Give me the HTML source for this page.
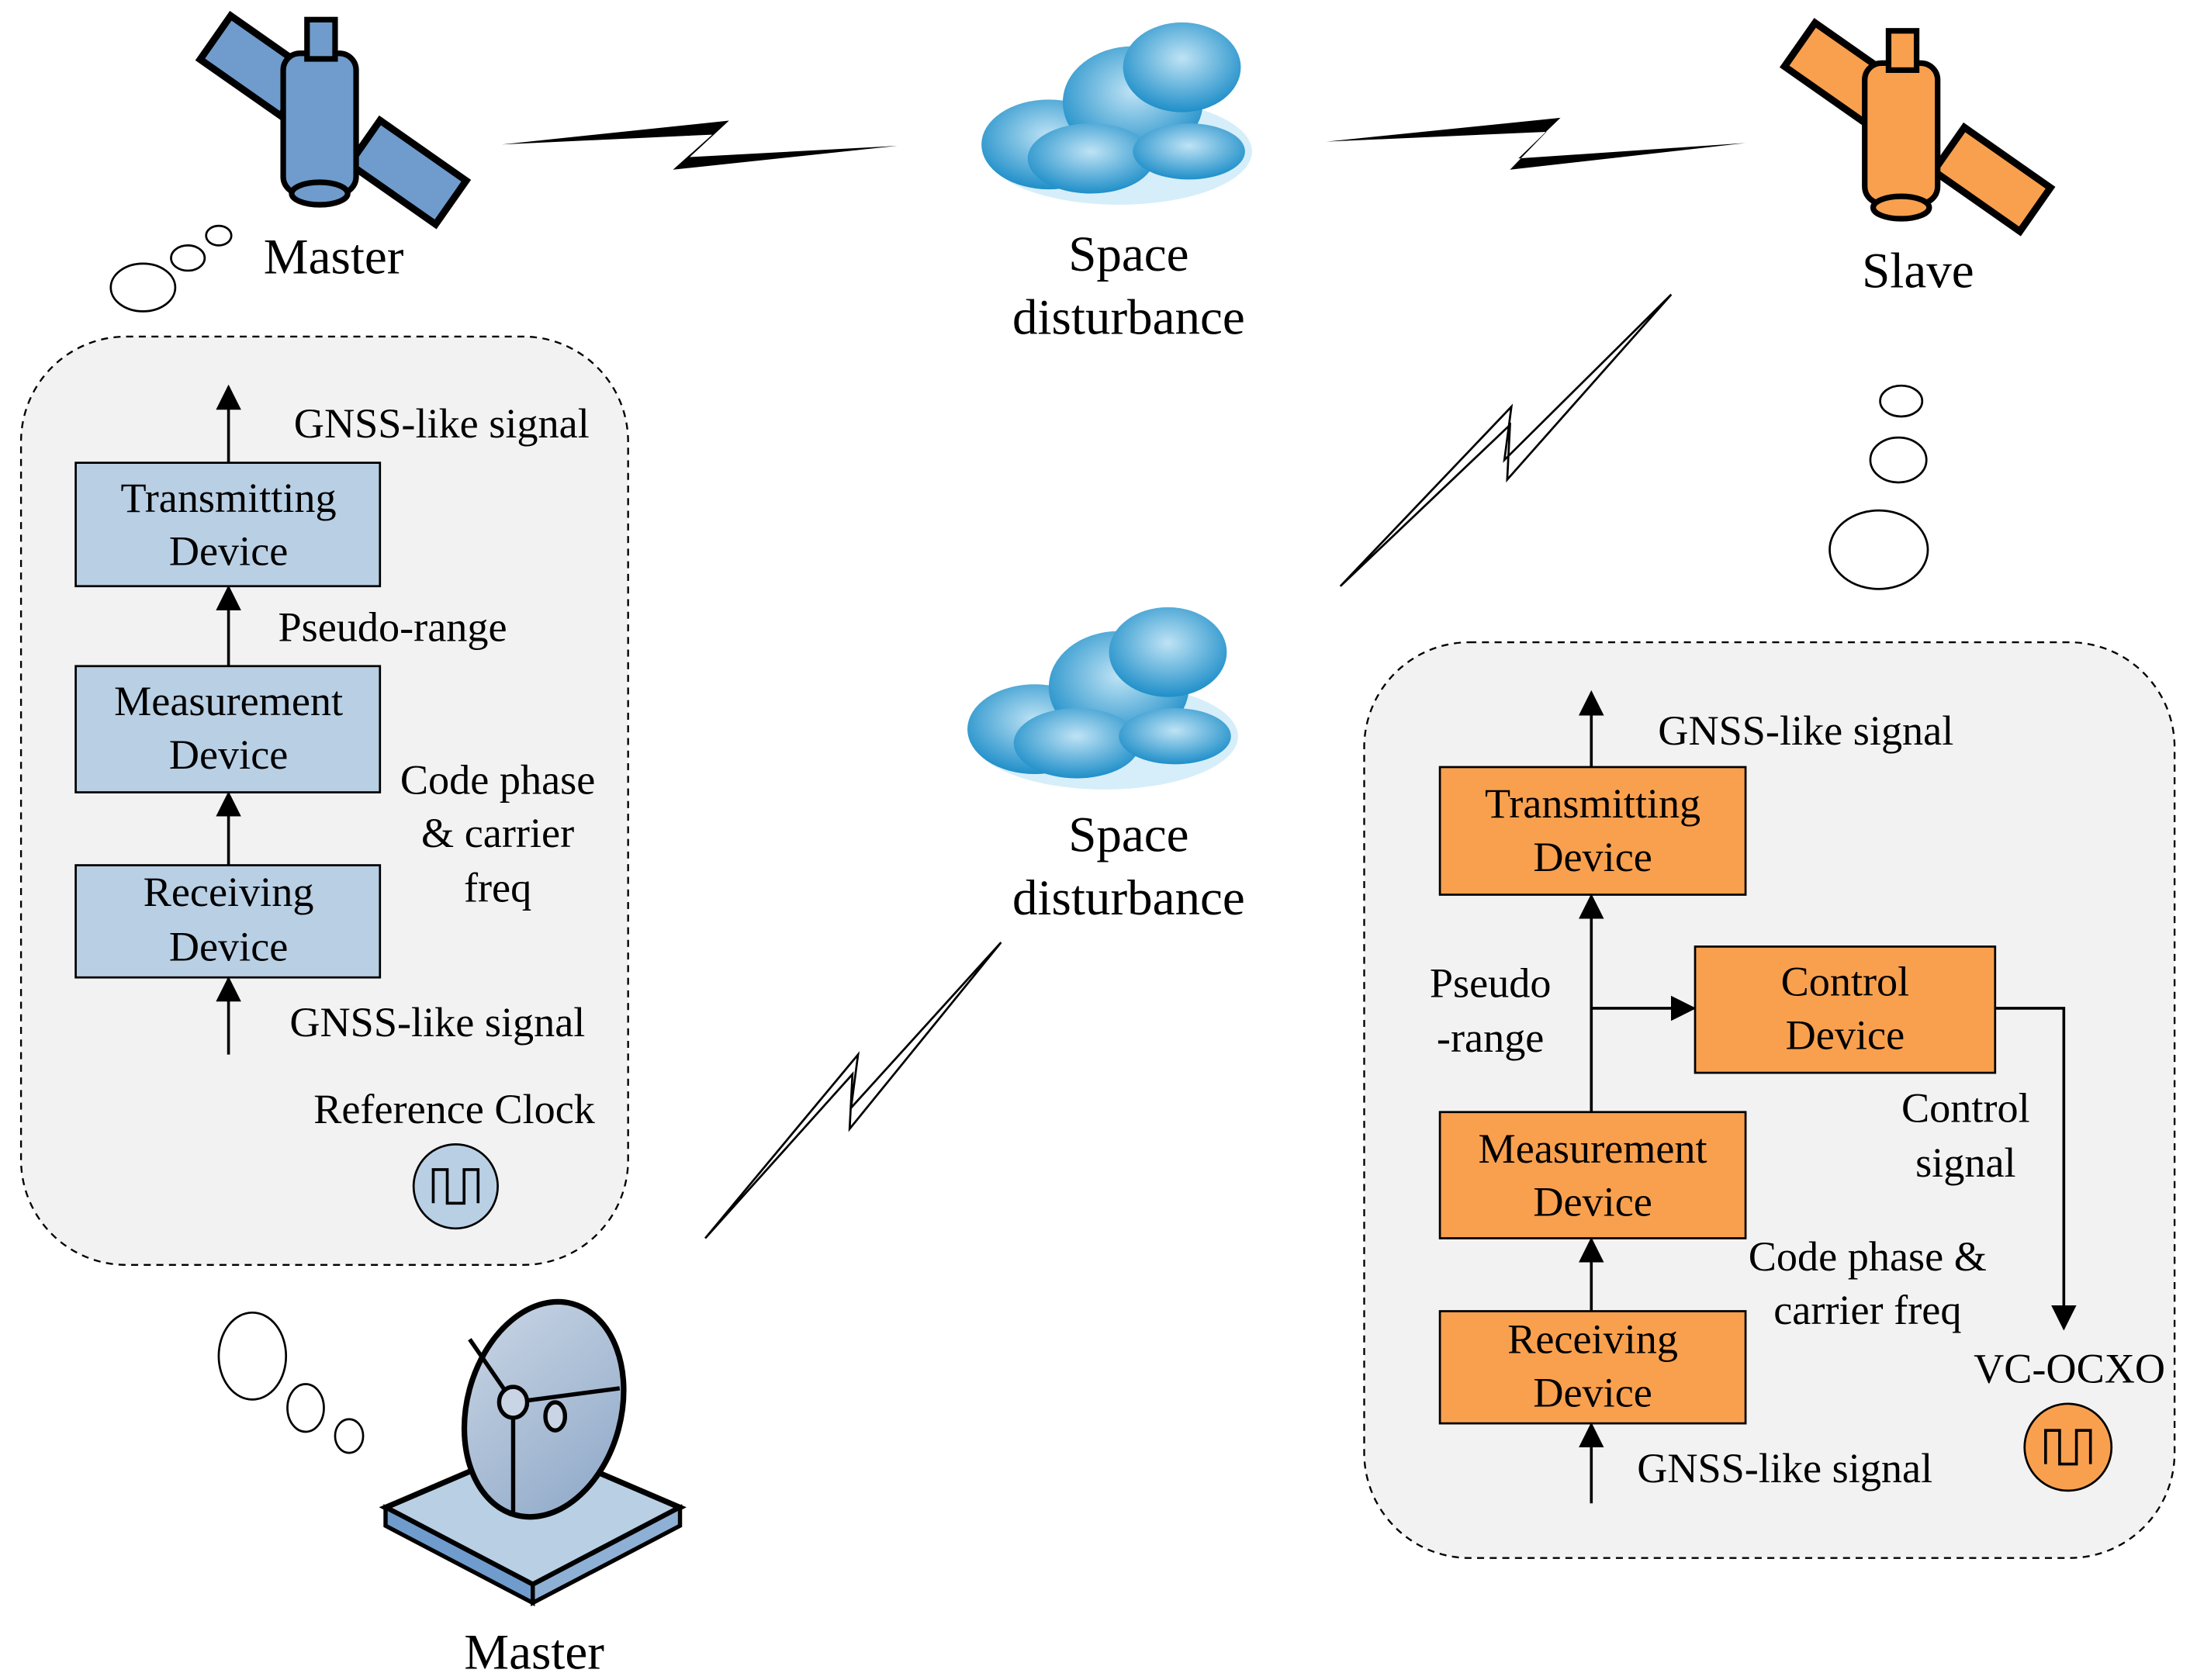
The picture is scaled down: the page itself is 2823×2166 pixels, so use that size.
<!DOCTYPE html>
<html><head><meta charset="utf-8"><style>
html,body{margin:0;padding:0;background:#fff;}
svg{display:block;}
text{font-family:"Liberation Serif",serif;font-size:30px;fill:#000;text-anchor:middle;}
</style></head><body>
<svg width="2823" height="2166" viewBox="0 0 1562 1198" preserveAspectRatio="none" xmlns="http://www.w3.org/2000/svg">
<defs>
<marker id="ah" markerWidth="10" markerHeight="10" refX="9" refY="5" orient="auto" markerUnits="userSpaceOnUse"><path d="M0,0 L10,5 L0,10 z" fill="#000"/></marker>
<marker id="ah2" viewBox="0 0 10 10" markerWidth="18" markerHeight="18" refX="9" refY="5" orient="auto" markerUnits="userSpaceOnUse"><path d="M0,0 L10,5 L0,10 z" fill="#000"/></marker>
<radialGradient id="cl" cx="50%" cy="40%" r="60%"><stop offset="0" stop-color="#bfe3f5"/><stop offset="1" stop-color="#1f8fc9"/></radialGradient>
<linearGradient id="dish" x1="0" y1="0" x2="1" y2="1"><stop offset="0" stop-color="#c9d5e4"/><stop offset="1" stop-color="#8ea8c8"/></linearGradient>
<g id="cloud">
<ellipse cx="0" cy="20" rx="95" ry="38" fill="#d6eef9"/>
<ellipse cx="-50" cy="15" rx="48" ry="32" fill="url(#cl)"/>
<ellipse cx="10" cy="-15" rx="50" ry="40" fill="url(#cl)"/>
<ellipse cx="45" cy="-40" rx="42" ry="32" fill="url(#cl)"/>
<ellipse cx="-20" cy="25" rx="45" ry="25" fill="url(#cl)"/>
<ellipse cx="50" cy="20" rx="40" ry="20" fill="url(#cl)"/>
</g>
</defs>

<!-- Left dashed box -->
<rect x="15" y="240" width="433" height="662" rx="75" fill="#f2f2f2" stroke="#000" stroke-width="1.3" stroke-dasharray="5,4"/>
<rect x="54" y="330" width="217" height="88" fill="#b9cfe4" stroke="#000" stroke-width="1.5"/>
<rect x="54" y="475" width="217" height="90" fill="#b9cfe4" stroke="#000" stroke-width="1.5"/>
<rect x="54" y="617" width="217" height="80" fill="#b9cfe4" stroke="#000" stroke-width="1.5"/>
<text x="163" y="365">Transmitting</text><text x="163" y="403">Device</text>
<text x="163" y="510">Measurement</text><text x="163" y="548">Device</text>
<text x="163" y="646">Receiving</text><text x="163" y="685">Device</text>
<g stroke="#000" stroke-width="2">
<line x1="163" y1="330" x2="163" y2="276" marker-end="url(#ah2)"/>
<line x1="163" y1="475" x2="163" y2="419" marker-end="url(#ah2)"/>
<line x1="163" y1="617" x2="163" y2="566" marker-end="url(#ah2)"/>
<line x1="163" y1="752" x2="163" y2="698" marker-end="url(#ah2)"/>
</g>
<text x="315" y="312">GNSS-like signal</text>
<text x="280" y="457">Pseudo-range</text>
<text x="355" y="566">Code phase</text>
<text x="355" y="604">&amp; carrier</text>
<text x="355" y="643">freq</text>
<text x="312" y="739">GNSS-like signal</text>
<text x="324" y="801">Reference Clock</text>
<circle cx="325" cy="846" r="30" fill="#b9cfe4" stroke="#000" stroke-width="1.5"/>
<path d="M309,858 V834 H319 V858 H331 V834 H341 V858" fill="none" stroke="#000" stroke-width="2"/>

<!-- Right dashed box -->
<rect x="973" y="458" width="578" height="653" rx="75" fill="#f2f2f2" stroke="#000" stroke-width="1.3" stroke-dasharray="5,4"/>
<rect x="1027" y="547" width="218" height="91" fill="#f9a04e" stroke="#000" stroke-width="1.5"/>
<rect x="1209" y="675" width="214" height="90" fill="#f9a04e" stroke="#000" stroke-width="1.5"/>
<rect x="1027" y="793" width="218" height="90" fill="#f9a04e" stroke="#000" stroke-width="1.5"/>
<rect x="1027" y="935" width="218" height="80" fill="#f9a04e" stroke="#000" stroke-width="1.5"/>
<text x="1136" y="583">Transmitting</text><text x="1136" y="621">Device</text>
<text x="1316" y="710">Control</text><text x="1316" y="748">Device</text>
<text x="1136" y="829">Measurement</text><text x="1136" y="867">Device</text>
<text x="1136" y="965">Receiving</text><text x="1136" y="1003">Device</text>
<g stroke="#000" stroke-width="2" fill="none">
<line x1="1135" y1="547" x2="1135" y2="494" marker-end="url(#ah2)"/>
<line x1="1135" y1="793" x2="1135" y2="639" marker-end="url(#ah2)"/>
<line x1="1135" y1="719" x2="1208" y2="719" marker-end="url(#ah2)"/>
<line x1="1135" y1="935" x2="1135" y2="884" marker-end="url(#ah2)"/>
<line x1="1135" y1="1072" x2="1135" y2="1016" marker-end="url(#ah2)"/>
<polyline points="1423,719 1472,719 1472,947" marker-end="url(#ah2)"/>
</g>
<text x="1288" y="531">GNSS-like signal</text>
<text x="1063" y="711">Pseudo</text><text x="1063" y="750">-range</text>
<text x="1402" y="800">Control</text><text x="1402" y="839">signal</text>
<text x="1332" y="906">Code phase &amp;</text><text x="1332" y="944">carrier freq</text>
<text x="1476" y="986">VC-OCXO</text>
<text x="1273" y="1057">GNSS-like signal</text>
<circle cx="1475" cy="1032" r="31" fill="#f9a04e" stroke="#000" stroke-width="1.5"/>
<path d="M1459,1044 V1020 H1469 V1044 H1481 V1020 H1491 V1044" fill="none" stroke="#000" stroke-width="2"/>

<!-- Clouds -->
<use href="#cloud" x="798" y="88"/>
<use href="#cloud" x="788" y="505"/>
<text x="805" y="193" style="font-size:36px">Space</text>
<text x="805" y="238" style="font-size:36px">disturbance</text>
<text x="805" y="607" style="font-size:36px">Space</text>
<text x="805" y="652" style="font-size:36px">disturbance</text>

<!-- Black lightning bolts -->
<polygon points="358,103 520,86 492,112 640,104 480,121 508,96" fill="#000"/>
<polygon points="946,101 1113,84 1083,113 1245,102 1077,121 1103,94" fill="#000"/>
<!-- Outline bolts -->
<polygon points="956,418 1078,290 1073,328 1192,210 1075,342 1077,303" fill="#fff" stroke="#000" stroke-width="1.5"/>
<polygon points="503,883 612,752 607,790 714,672 606,805 608,766" fill="#fff" stroke="#000" stroke-width="1.5"/>

<!-- Master satellite -->
<g transform="translate(235,85) rotate(35)" stroke="#000" stroke-width="5">
<rect x="-100" y="-20" width="70" height="38" fill="#6f9ccc"/>
<rect x="30" y="-20" width="75" height="38" fill="#6f9ccc"/>
</g>
<g stroke="#000" stroke-width="4">
<rect x="202" y="38" width="52" height="100" rx="12" fill="#6f9ccc"/>
<rect x="219" y="14" width="20" height="28" fill="#6f9ccc"/>
<ellipse cx="228" cy="138" rx="20" ry="8" fill="#6f9ccc"/>
</g>
<text x="238" y="195" style="font-size:36px">Master</text>
<!-- Slave satellite -->
<g transform="translate(1365,90) rotate(35)" stroke="#000" stroke-width="5">
<rect x="-100" y="-20" width="70" height="38" fill="#f9a04e"/>
<rect x="30" y="-20" width="75" height="38" fill="#f9a04e"/>
</g>
<g stroke="#000" stroke-width="4">
<rect x="1330" y="45" width="52" height="100" rx="12" fill="#f9a04e"/>
<rect x="1347" y="22" width="20" height="28" fill="#f9a04e"/>
<ellipse cx="1356" cy="148" rx="20" ry="8" fill="#f9a04e"/>
</g>
<text x="1368" y="205" style="font-size:36px">Slave</text>

<!-- Thought bubbles -->
<g fill="#fff" stroke="#000" stroke-width="1.5">
<ellipse cx="156" cy="168" rx="9" ry="7"/>
<ellipse cx="134" cy="184" rx="12" ry="9"/>
<ellipse cx="102" cy="205" rx="23" ry="17"/>
<ellipse cx="1356" cy="286" rx="15" ry="11"/>
<ellipse cx="1354" cy="328" rx="20" ry="16"/>
<ellipse cx="1340" cy="392" rx="35" ry="28"/>
<ellipse cx="180" cy="967" rx="24" ry="31"/>
<ellipse cx="218" cy="1004" rx="13" ry="17"/>
<ellipse cx="249" cy="1024" rx="10" ry="12"/>
</g>

<!-- Dish -->
<polygon points="275,1075 380,1030 485,1075 380,1130" fill="#b9cfe4" stroke="#000" stroke-width="4"/>
<polygon points="275,1075 275,1088 380,1143 380,1130" fill="#6f9ccc" stroke="#000" stroke-width="3"/>
<polygon points="485,1075 485,1088 380,1143 380,1130" fill="#8fb0d5" stroke="#000" stroke-width="3"/>
<ellipse cx="388" cy="1005" rx="55" ry="78" transform="rotate(15 388 1005)" fill="url(#dish)" stroke="#000" stroke-width="4"/>
<g stroke="#000" stroke-width="3" fill="none">
<line x1="366" y1="1000" x2="335" y2="955"/>
<line x1="366" y1="1000" x2="442" y2="990"/>
<line x1="366" y1="1000" x2="366" y2="1078"/>
</g>
<ellipse cx="366" cy="1000" rx="10" ry="11" fill="#c9d5e4" stroke="#000" stroke-width="3"/>
<ellipse cx="396" cy="1010" rx="7" ry="10" fill="#c9d5e4" stroke="#000" stroke-width="3"/>
<text x="381" y="1190" style="font-size:36px">Master</text>
</svg>
</body></html>
